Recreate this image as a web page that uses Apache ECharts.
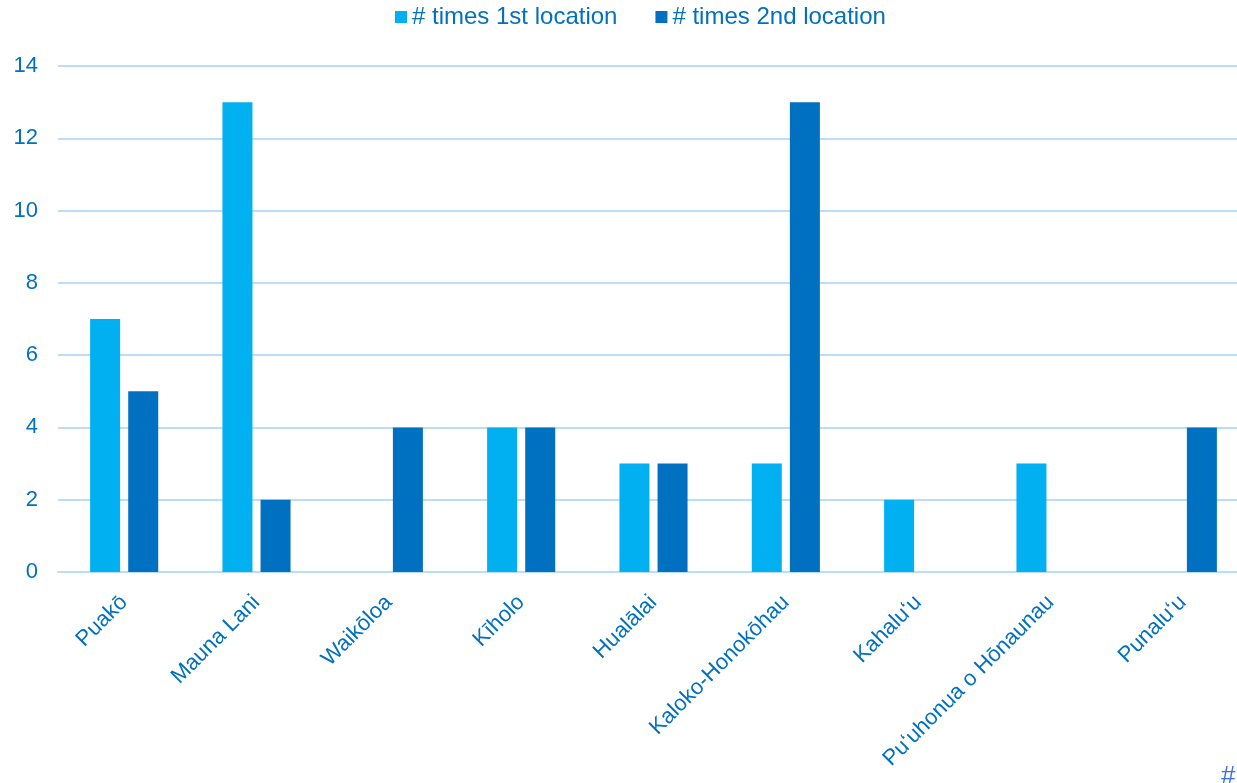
<!DOCTYPE html>
<html lang="en">
  <head>
    <meta charset="UTF-8" />
    <title>Locations</title>
    <style>
      body {
        margin: 0;
        overflow: hidden;
        background-color: #ffffff;
      }
      /* the plot area runs a little past the right edge of the window */
      #chart {
        width: 1249px;
        height: 783px;
      }
    </style>
  </head>
  <body>
    <div id="chart"></div>
    <script src="https://cdn.jsdelivr.net/npm/echarts@6/dist/echarts.min.js"></script>
    <script>
      const categories = [
        "Puakō",
        "Mauna Lani",
        "Waikōloa",
        "Kīholo",
        "Hualālai",
        "Kaloko-Honokōhau",
        "Kahaluʻu",
        "Puʻuhonua o Hōnaunau",
        "Punaluʻu",
      ];
      const firstLocation = [7, 13, 0, 4, 3, 3, 2, 3, 0];
      const secondLocation = [5, 2, 4, 4, 3, 13, 0, 0, 4];
      const seriesNames = ["# times 1st location", "# times 2nd location"];

      const textColor = "#0070c0";
      const font = "'Liberation Sans', Arial, sans-serif";

      const chart = echarts.init(document.querySelector("#chart"));
      chart.setOption({
        animation: false,
        textStyle: { fontFamily: font },
        legend: {
          top: 0,
          left: 390,
          itemWidth: 12,
          itemHeight: 12,
          itemGap: 38,
          icon: "rect",
          textStyle: { color: textColor, fontSize: 24, fontFamily: font },
          data: seriesNames,
        },
        grid: {
          left: 58,
          right: 0,
          top: 66,
          bottom: 211,
          containLabel: false,
        },
        xAxis: {
          type: "category",
          data: categories,
          axisLine: { lineStyle: { color: "#bddcf7", width: 2 } },
          axisTick: { show: false },
          axisLabel: {
            rotate: 45,
            interval: 0,
            color: textColor,
            fontSize: 22,
            fontFamily: font,
            margin: 27,
          },
        },
        yAxis: {
          type: "value",
          min: 0,
          max: 14,
          interval: 2,
          axisLine: { show: false },
          axisTick: { show: false },
          splitLine: { lineStyle: { color: "#bddcf7", width: 2 } },
          axisLabel: {
            color: textColor,
            fontSize: 22,
            fontFamily: font,
            margin: 20,
          },
        },
        graphic: [
          {
            type: "text",
            left: 1221,
            top: 764,
            style: {
              text: "#",
              fill: "#3b6cf5",
              fontSize: 26,
              fontFamily: font,
            },
          },
        ],
        series: [
          {
            name: seriesNames[0],
            type: "bar",
            data: firstLocation,
            barWidth: 30,
            barGap: "27%",
            itemStyle: { color: "#00b0f0" },
          },
          {
            name: seriesNames[1],
            type: "bar",
            data: secondLocation,
            barWidth: 30,
            itemStyle: { color: "#0070c0" },
          },
        ],
      });
    </script>
  </body>
</html>
